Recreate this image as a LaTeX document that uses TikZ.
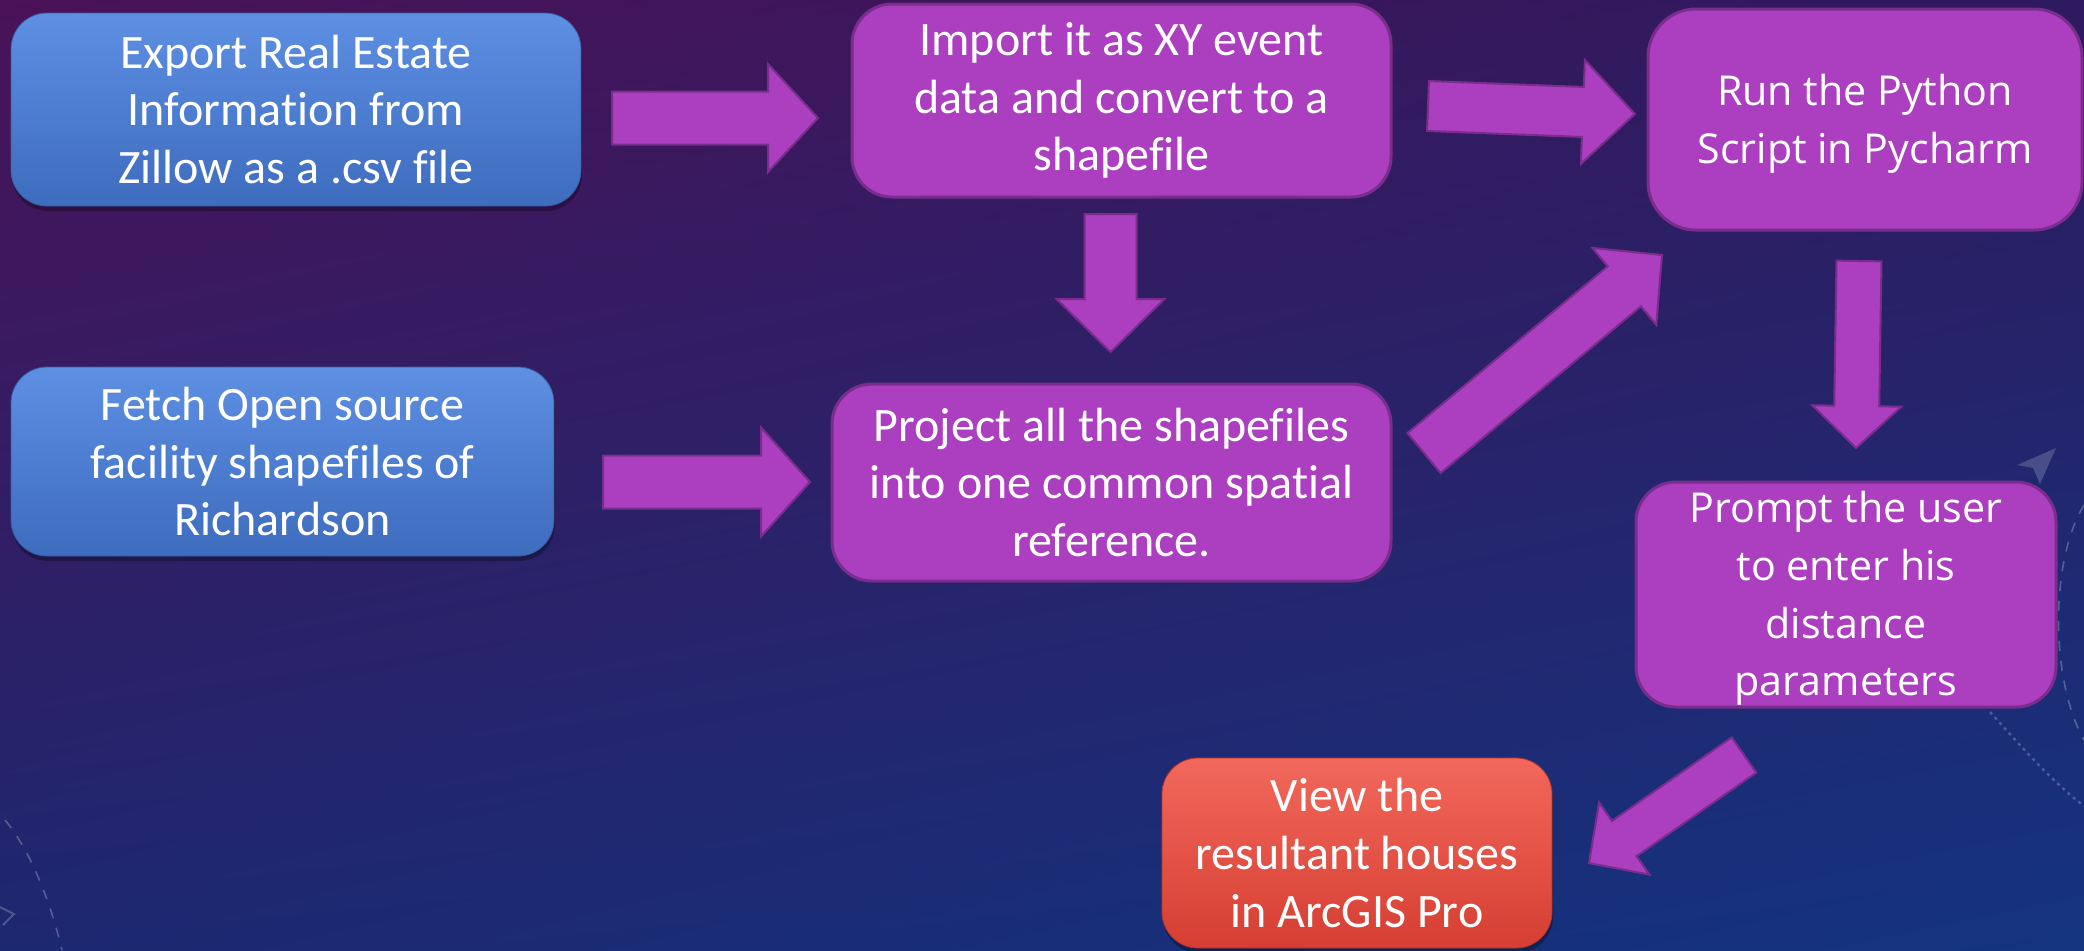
\documentclass[tikz,border=0pt]{standalone}
\usepackage{fontspec}
\setmainfont{Carlito}[Ligatures={NoCommon}]
\newfontfamily\osfont{Open Sans}
\usetikzlibrary{shadows,shadings}
\definecolor{bgTL}{RGB}{74,18,88}
\definecolor{bgTR}{RGB}{46,26,94}
\definecolor{bgBL}{RGB}{28,40,112}
\definecolor{bgBR}{RGB}{20,52,128}
\definecolor{purp}{RGB}{171,63,192}
\definecolor{purpD}{RGB}{122,45,140}
\definecolor{blueT}{RGB}{93,143,227}
\definecolor{blueB}{RGB}{62,108,190}
\definecolor{redT}{RGB}{242,104,92}
\definecolor{redB}{RGB}{214,62,50}
\tikzset{
  basebox/.style={align=center, text=white, inner sep=0pt,
    font=\fontsize{24}{28.8}\selectfont},
  bluebox/.style={basebox, rounded corners=18pt, top color=blueT, bottom color=blueB,
    draw=blueB!85!black, line width=0.4pt,
    drop shadow={shadow xshift=0.5pt, shadow yshift=-2.5pt, fill=black, opacity=0.3}},
  redbox/.style={basebox, rounded corners=18pt, top color=redT, bottom color=redB,
    draw=redB!85!black, line width=0.4pt,
    drop shadow={shadow xshift=0.5pt, shadow yshift=-2.5pt, fill=black, opacity=0.3}},
  purpbox/.style={basebox, rounded corners=20pt, fill=purp, draw=purpD, line width=1.5pt},
  widetext/.style={align=center, text=white, inner sep=0pt,
    font=\osfont\fontsize{20.6}{28.8}\selectfont},
  barrow/.style={fill=purp, draw=purpD, line width=1pt, line join=miter},
  deco/.style={white, opacity=0.25, line width=0.8pt, dash pattern=on 5pt off 5pt},
  decodot/.style={white, opacity=0.22, line width=1.2pt, dash pattern=on 1.5pt off 2pt}
}
\newcommand\blockarrow[6]{% tail, angle, length, shaft half, head half, head length
  \draw[barrow, shift={#1}, rotate=#2] (0,-#4) -- ({#3-#6},-#4) -- ({#3-#6},-#5) -- (#3,0)
    -- ({#3-#6},#5) -- ({#3-#6},#4) -- (0,#4) -- cycle;}
\begin{document}
\begin{tikzpicture}[x=0.5pt,y=-0.5pt]
\shade[upper left=bgTL, upper right=bgTR, lower left=bgBL, lower right=bgBR] (0,0) rectangle (2084,950);
\useasboundingbox (0,0) rectangle (2084,950);
% faint background decorations
\draw[deco] (2084,505) .. controls (2050,560) and (2050,680) .. (2084,740);
\draw[decodot] (1990,712) .. controls (2020,745) and (2050,780) .. (2084,806);
\draw[deco] (5,820) .. controls (30,850) and (50,900) .. (62,950);
\draw[white, opacity=0.22, line width=1pt] (0,907) -- (14,914) -- (3,925);
\fill[white, opacity=0.18] (2056,448) -- (2017,465) -- (2033,468) -- (2040,484) -- cycle;
% boxes
\node[bluebox, minimum width=285pt, minimum height=96.5pt] (export) at (296,109.5)
  {Export Real Estate\\Information from\\Zillow as a .csv file};
\node[bluebox, minimum width=271.5pt, minimum height=94.5pt] (fetch) at (282.5,461.5)
  {Fetch Open source\\facility shapefiles of\\Richardson};
\node[purpbox, minimum width=269.5pt, minimum height=96.5pt] (import) at (1121.5,100.5)
  {Import it as XY event\\data and convert to a\\shapefile};
\node[purpbox, minimum width=279.5pt, minimum height=98.5pt] (project) at (1111.5,482.5)
  {Project all the shapefiles\\into one common spatial\\reference.};
\node[purpbox, rounded corners=24pt, minimum width=217pt, minimum height=110.5pt] (run) at (1865,119.5) {};
\node[widetext] (runtxt) at ([yshift=-2pt]run.center) {Run the Python\\Script in Pycharm};
\node[purpbox, minimum width=210pt, minimum height=112.5pt] (prompt) at (1846,594.5) {};
\node[widetext] (prompttxt) at ([yshift=-2pt]prompt.center) {Prompt the user\\to enter his\\distance\\parameters};
\node[redbox, minimum width=195pt, minimum height=95pt] (view) at (1357,853)
  {View the\\resultant houses\\in ArcGIS Pro};
% block arrows
\coordinate (a1) at (612,118);
\coordinate (a2) at (603,482);
\coordinate (a3) at (1110.5,214);
\coordinate (a4) at (1428,106);
\coordinate (a5) at (1424,453);
\coordinate (a6) at (1859,261);
\coordinate (a7) at (1744,755);
\blockarrow{(a1)}{0}{206}{26.5}{54}{50}
\blockarrow{(a2)}{0}{207}{26.5}{54.5}{49}
\blockarrow{(a3)}{-90}{138}{26}{54}{53}
\blockarrow{(a4)}{-2.2}{207}{25}{52}{52}
\blockarrow{(a5)}{39.76}{309.6}{26}{50}{49}
\blockarrow{(a6)}{-90.9}{187}{22.5}{44.5}{42}
\blockarrow{(a7)}{-145.1}{189}{21.5}{44}{43}
\end{tikzpicture}
\end{document}
